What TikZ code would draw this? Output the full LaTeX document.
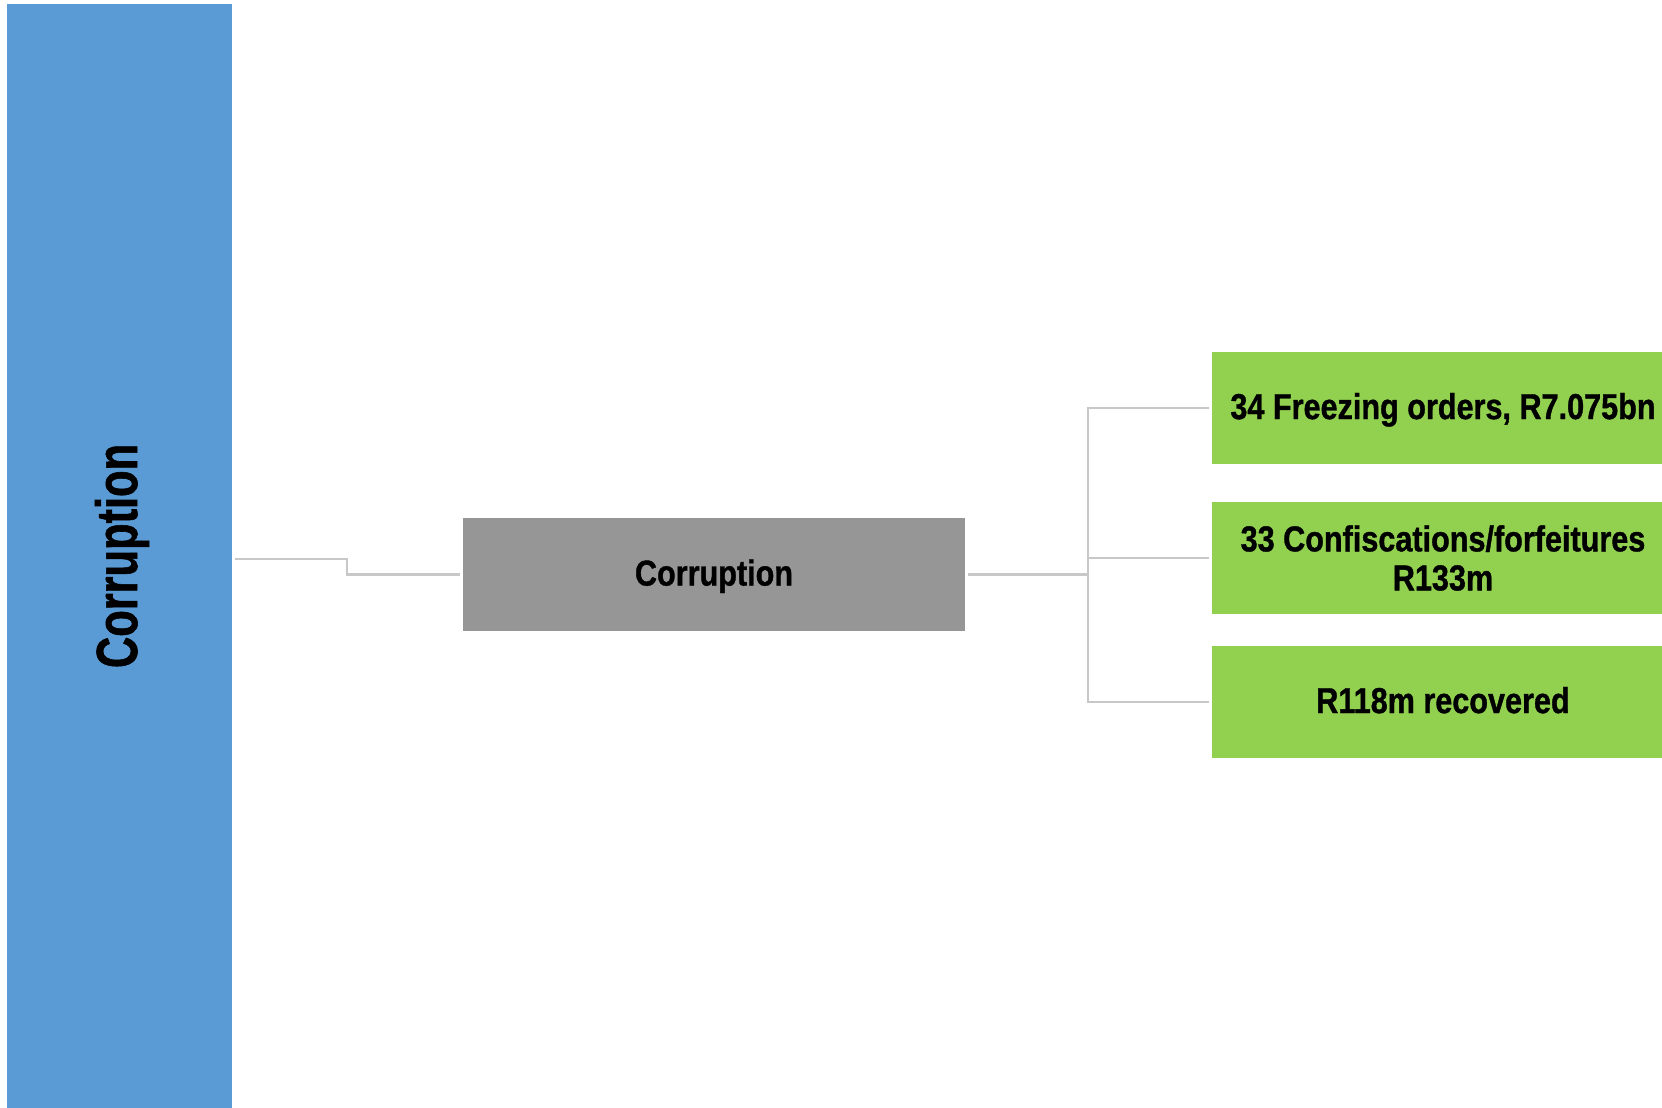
\documentclass[tikz,border=0pt]{standalone}
\usepackage{fontspec}
\setmainfont{Liberation Sans}
\newfontfamily\narrowfont[FakeStretch=0.85,BoldFeatures={FakeBold=1}]{Liberation Sans}
\newfontfamily\vnarrowfont[FakeStretch=0.748,BoldFeatures={FakeBold=1}]{Liberation Sans}
\definecolor{barblue}{RGB}{91,155,213}
\definecolor{boxgray}{RGB}{150,150,150}
\definecolor{boxgreen}{RGB}{146,208,80}
\definecolor{linegray}{RGB}{200,200,200}
\tikzset{
  conn/.style={draw=linegray, line width=2.5pt, shorten <=2.5pt, shorten >=2.5pt},
  greenbox/.style={fill=boxgreen, draw=none, minimum width=462pt, minimum height=112pt, inner sep=0pt,
    align=center, font=\narrowfont\bfseries\fontsize{36}{39}\selectfont, text=black},
  graybox/.style={fill=boxgray, draw=none, minimum width=502pt, minimum height=113pt, inner sep=0pt,
    text depth=4pt, font=\narrowfont\bfseries\fontsize{36}{39}\selectfont, text=black},
  bluebar/.style={fill=barblue, draw=none, rotate=90, minimum width=1104pt, minimum height=225pt, inner sep=0pt,
    text depth=7pt, font=\vnarrowfont\bfseries\fontsize{58}{62}\selectfont, text=black}
}
\begin{document}
\begin{tikzpicture}[x=1pt,y=-1pt]
\clip (0,0) rectangle (1662,1108);
\useasboundingbox (0,0) rectangle (1662,1108);
\node[bluebar] (blue) at (119.5,556) {Corruption};
\node[graybox] (gray) at (714,574.5) {Corruption};
\node[greenbox, text depth=4pt] (g1) at (1443,408) {34 Freezing orders, R7.075bn};
\node[greenbox] (g2) at (1443,558) {33 Confiscations/forfeitures\\R133m};
\node[greenbox, text depth=4pt] (g3) at (1443,702) {R118m recovered};
\coordinate (step) at (347,567);
\coordinate (hub) at (1088,574.5);
\draw[conn] (blue.south |- 0,559) -| (step) |- (gray.west);
\draw[conn, shorten >=0pt] (gray.east) -- (hub);
\draw[conn, shorten <=0pt] (hub) |- (g1.west);
\draw[conn, shorten <=0pt] (hub) |- (g2.west);
\draw[conn, shorten <=0pt] (hub) |- (g3.west);
\end{tikzpicture}
\end{document}
